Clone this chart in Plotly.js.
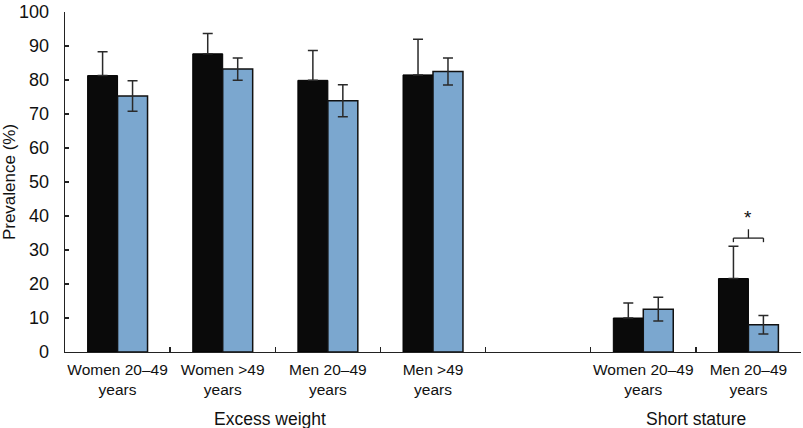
<!DOCTYPE html>
<html>
<head>
<meta charset="utf-8">
<script src="https://cdn.plot.ly/plotly-3.0.1.min.js"></script>
<style>html,body{margin:0;padding:0;background:#fff;}#chart{width:803px;height:428px;}</style>
</head>
<body>
<div id="chart"></div>
<script>
const categories = ["Women 20–49<br>years", "Women >49<br>years", "Men 20–49<br>years", "Men >49<br>years", " ", "Women 20–49<br>years\u200b", "Men 20–49<br>years\u200b"];
const blackValues = [81.3, 87.7, 79.9, 81.5, null, 10.0, 21.6];
const blackErrors = [7.0, 6.0, 8.8, 10.5, null, 4.4, 9.5];
const blueValues = [75.3, 83.2, 73.9, 82.5, null, 12.6, 8.0];
const blueErrors = [4.5, 3.3, 4.7, 4.0, null, 3.5, 2.7];
const groupLabels = ["Excess weight", "Short stature"];
const yTicks = [0, 10, 20, 30, 40, 50, 60, 70, 80, 90, 100];

const BLACK = '#0a0a0a', BLUE = '#7ba7cf', ERR = '#2a2a2a', TXT = '#111';
const font = 'Liberation Sans, Arial, sans-serif';

const traces = [
  {type: 'bar', x: categories, y: blackValues, name: 'A',
   marker: {color: BLACK, line: {color: '#000', width: 1}},
   error_y: {type: 'data', symmetric: false, array: blackErrors, arrayminus: blackErrors.map(v => v === null ? null : 0),
             visible: true, color: ERR, thickness: 1.5, width: 5}},
  {type: 'bar', x: categories, y: blueValues, name: 'B',
   marker: {color: BLUE, line: {color: '#111', width: 1.5}},
   error_y: {type: 'data', array: blueErrors, visible: true, color: ERR, thickness: 1.5, width: 5}}
];

// significance bracket over the last category
const ci = 6, off = 0.143;
const yb = blackValues[ci] + blackErrors[ci] + 2.4;
const shapes = [
  {type: 'line', xref: 'x', yref: 'y', x0: ci - off, x1: ci + off, y0: yb, y1: yb, line: {color: '#222', width: 1.3}},
  {type: 'line', xref: 'x', yref: 'y', x0: ci - off, x1: ci - off, y0: yb, y1: yb - 1.2, line: {color: '#222', width: 1.3}},
  {type: 'line', xref: 'x', yref: 'y', x0: ci + off, x1: ci + off, y0: yb, y1: yb - 1.2, line: {color: '#222', width: 1.3}},
  {type: 'line', xref: 'x', yref: 'y', x0: ci, x1: ci, y0: yb, y1: yb + 2.6, line: {color: '#222', width: 1.3}}
];

const layout = {
  width: 803, height: 428,
  margin: {l: 65, r: 2, t: 12, b: 76},
  paper_bgcolor: '#fff', plot_bgcolor: '#fff',
  showlegend: false,
  barmode: 'group', bargap: 0.43, bargroupgap: 0,
  font: {family: font, color: TXT, size: 17},
  xaxis: {
    type: 'category', categoryorder: 'array', categoryarray: categories,
    tickson: 'boundaries', ticks: 'inside', ticklen: 5, tickcolor: '#222', tickwidth: 1.3,
    showline: true, linecolor: '#222', linewidth: 1.3, showgrid: false, zeroline: false,
    tickangle: 0, ticklabelstandoff: 3,
    tickfont: {family: font, size: 15.5, color: TXT}, range: [-0.5, 6.5]
  },
  yaxis: {
    range: [0, 100], tickvals: yTicks, ticks: 'inside', ticklen: 4, tickcolor: '#222', tickwidth: 1.3,
    showline: true, linecolor: '#222', linewidth: 1.3, showgrid: false, zeroline: false,
    ticklabelstandoff: 11,
    tickfont: {family: font, size: 18, color: TXT},
    title: {text: 'Prevalence (%)', font: {family: font, size: 17, color: TXT}, standoff: 2}
  },
  shapes: shapes,
  annotations: [
    {xref: 'x', yref: 'paper', x: 1.45, y: -0.197, text: groupLabels[0], showarrow: false, yanchor: 'middle', font: {family: font, size: 17.5, color: TXT}},
    {xref: 'x', yref: 'paper', x: 5.5, y: -0.197, text: groupLabels[1], showarrow: false, yanchor: 'middle', font: {family: font, size: 17.5, color: TXT}},
    {xref: 'x', yref: 'y', x: ci, y: yb + 2.3, text: '*', showarrow: false, yanchor: 'bottom', font: {family: font, size: 19, color: TXT}}
  ]
};

Plotly.newPlot('chart', traces, layout, {displayModeBar: false, staticPlot: true});
</script>
</body>
</html>
